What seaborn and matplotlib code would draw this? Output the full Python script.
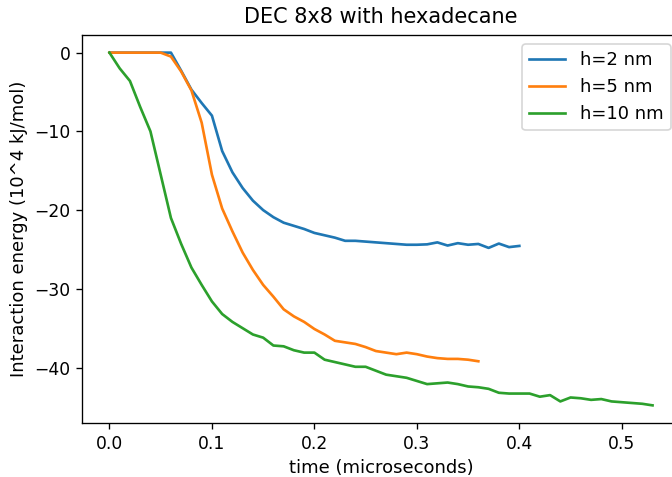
import matplotlib
matplotlib.use("Agg")
import matplotlib.pyplot as plt
import seaborn as sns
import pandas as pd

title = "DEC 8x8 with hexadecane"
xlabel = "time (microseconds)"
ylabel = "Interaction energy (10^4 kJ/mol)"
series_labels = ["h=2 nm", "h=5 nm", "h=10 nm"]
colors = ["#1f77b4", "#ff7f0e", "#2ca02c"]

time = [0.00, 0.01, 0.02, 0.03, 0.04, 0.05, 0.06, 0.07, 0.08, 0.09,
        0.10, 0.11, 0.12, 0.13, 0.14, 0.15, 0.16, 0.17, 0.18, 0.19,
        0.20, 0.21, 0.22, 0.23, 0.24, 0.25, 0.26, 0.27, 0.28, 0.29,
        0.30, 0.31, 0.32, 0.33, 0.34, 0.35, 0.36, 0.37, 0.38, 0.39,
        0.40, 0.41, 0.42, 0.43, 0.44, 0.45, 0.46, 0.47, 0.48, 0.49,
        0.50, 0.51, 0.52, 0.53]

h2 = [0, 0, 0, 0, 0, 0, 0, -2.3, -4.7, -6.4,
      -8.0, -12.5, -15.2, -17.2, -18.8, -20.0, -20.9, -21.6, -22.0, -22.4,
      -22.9, -23.2, -23.5, -23.9, -23.9, -24.0, -24.1, -24.2, -24.3, -24.4,
      -24.4, -24.35, -24.1, -24.5, -24.2, -24.4, -24.3, -24.8, -24.25, -24.7,
      -24.55]

h5 = [0, 0, 0, 0, 0, 0, -0.5, -2.4, -4.8, -8.9,
      -15.5, -19.8, -22.7, -25.4, -27.6, -29.5, -31.0, -32.6, -33.5, -34.2,
      -35.1, -35.8, -36.6, -36.8, -37.0, -37.4, -37.9, -38.1, -38.3, -38.1,
      -38.3, -38.6, -38.8, -38.9, -38.9, -39.0, -39.2]

h10 = [0, -2.0, -3.6, -6.9, -10.0, -15.5, -21.0, -24.3, -27.3, -29.5,
       -31.6, -33.2, -34.2, -35.0, -35.8, -36.2, -37.2, -37.3, -37.8, -38.1,
       -38.1, -39.0, -39.3, -39.6, -39.9, -39.9, -40.4, -40.9, -41.1, -41.3,
       -41.7, -42.1, -42.0, -41.9, -42.1, -42.4, -42.5, -42.7, -43.2, -43.3,
       -43.3, -43.3, -43.7, -43.5, -44.3, -43.8, -43.9, -44.1, -44.0, -44.3,
       -44.4, -44.5, -44.6, -44.8]

frames = []
for lab, vals in zip(series_labels, [h2, h5, h10]):
    frames.append(pd.DataFrame({"time": time[:len(vals)], "energy": vals, "series": lab}))
df = pd.concat(frames, ignore_index=True)

plt.rcParams["font.family"] = ["DejaVu Sans"]
fig = plt.figure(figsize=(672 / 120, 477 / 120), dpi=120)
ax = fig.add_axes([82.3 / 672, 54 / 477, 597.4 / 672, 388 / 477])

sns.lineplot(data=df, x="time", y="energy", hue="series", hue_order=series_labels,
             palette=colors, linewidth=1.6, ax=ax, estimator=None, sort=False)

ax.tick_params(labelsize=10.3)
ax.set_title(title, fontsize=12.5, pad=7)
ax.set_xlabel(xlabel, fontsize=10.8)
ax.set_ylabel(ylabel, fontsize=10.8)
handles, labels = ax.get_legend_handles_labels()
ax.legend(handles, labels, loc="upper right", fontsize=10.8)

fig.savefig("out.png", dpi=120)
